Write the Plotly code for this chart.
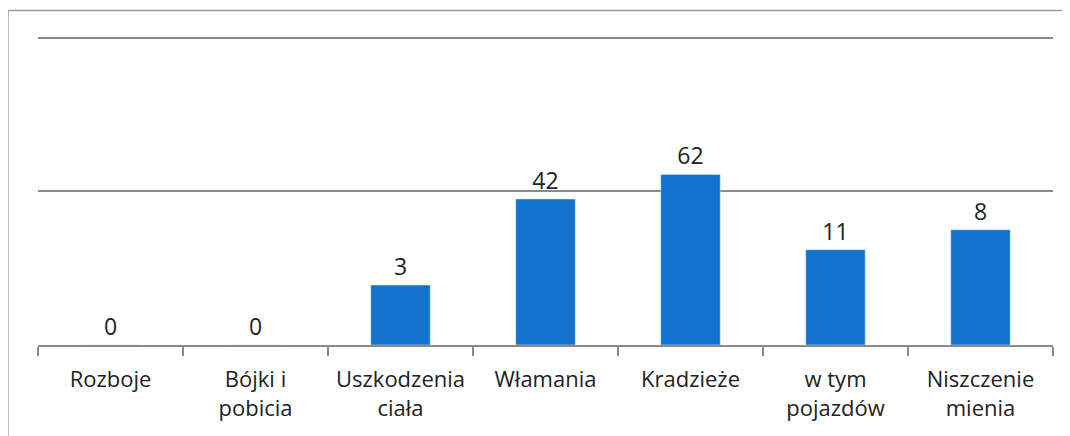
import plotly.graph_objects as go

categories = ["Rozboje", "Bójki i<br>pobicia", "Uszkodzenia<br>ciała", "Włamania",
              "Kradzieże", "w tym<br>pojazdów", "Niszczenie<br>mienia"]
# wartości z etykiet
values = [0, 0, 3, 42, 62, 11, 8]
# wysokości słupków (skala osi 0-2, linie siatki co 1)
heights = [0, 0, 0.39, 0.95, 1.11, 0.62, 0.75]

fig = go.Figure()
fig.add_trace(go.Bar(
    x=categories,
    y=heights,
    text=[str(v) for v in values],
    textposition="outside",
    textfont=dict(size=23, color="#222222"),
    marker_color="#1272CD",
    width=0.41,
    cliponaxis=False,
))

# strona ma 8px marginesu body, więc wykres jest o 8px mniejszy
fig.update_layout(
    width=1062, height=428,
    margin=dict(l=30, r=17, t=25, b=91),
    paper_bgcolor="white",
    plot_bgcolor="white",
    font=dict(family="Open Sans, Noto Sans, sans-serif", size=22, color="#222222"),
    showlegend=False,
    xaxis=dict(
        showline=True, linecolor="#8a8a8a", linewidth=1.5,
        ticks="outside", tickson="boundaries", ticklen=9, tickcolor="#8a8a8a",
        tickwidth=1.5, ticklabelstandoff=14,
        tickfont=dict(size=22, color="#222222"),
        automargin=False,
    ),
    yaxis=dict(
        range=[0, 2.03], tickvals=[1, 2], showticklabels=False,
        showgrid=True, gridcolor="#8a8a8a", gridwidth=1.5,
        zeroline=False, automargin=False,
    ),
    shapes=[
        dict(type="path", xref="paper", yref="paper",
             path="M -0.0296,-0.32 L -0.0296,1.072 L 1.03,1.072",
             line=dict(color="#9a9a9a", width=1.5)),
    ],
)

fig.write_html("out.html")
